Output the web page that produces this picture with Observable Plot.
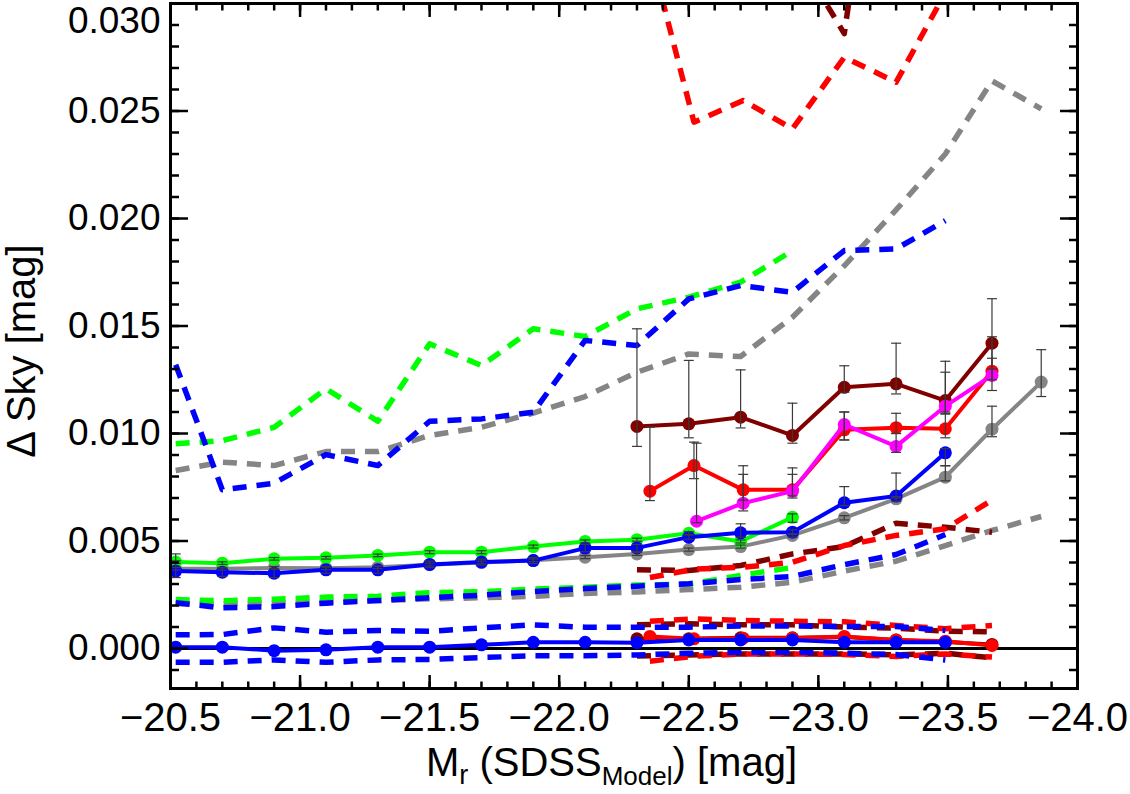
<!DOCTYPE html>
<html>
<head>
<meta charset="utf-8">
<script src="https://cdn.jsdelivr.net/npm/d3@7"></script>
<script src="https://cdn.jsdelivr.net/npm/@observablehq/plot@0.6"></script>
<style>
  html, body { margin: 0; padding: 0; background: #ffffff; }
  #chart svg { display: block; }
</style>
</head>
<body>
<div id="chart"></div>
<script>
// Absolute magnitude bins (mean M_r of the galaxies in each bin)
const magBins = [-20.52, -20.70, -20.90, -21.10, -21.30, -21.50, -21.70, -21.90, -22.10,
                 -22.30, -22.50, -22.70, -22.90, -23.10, -23.30, -23.49, -23.67, -23.86];
const redMags     = [-22.35, -22.52, -22.71, -22.90, -23.10, -23.30, -23.49, -23.67];
const magentaMags = [-22.53, -22.71, -22.90, -23.10, -23.30, -23.49, -23.67];

// Axis ticks
const xTicks = [-20.5, -21.0, -21.5, -22.0, -22.5, -23.0, -23.5, -24.0];
const yTicks = [0.000, 0.005, 0.010, 0.015, 0.020, 0.025, 0.030];

// Gray sample
const grayMean  = [0.00371, 0.00371, 0.00375, 0.00373, 0.00378, 0.00390, 0.00400, 0.00410, 0.00425, 0.00440, 0.00460, 0.00474, 0.00526, 0.00608, 0.00696, 0.00797, 0.01020, 0.01239];
const grayLo    = [0.00365, 0.00365, 0.00369, 0.00367, 0.00372, 0.00384, 0.00394, 0.00404, 0.00418, 0.00433, 0.00453, 0.00467, 0.00518, 0.00598, 0.00685, 0.00780, 0.00985, 0.01172];
const grayHi    = [0.00377, 0.00377, 0.00381, 0.00379, 0.00384, 0.00396, 0.00406, 0.00416, 0.00432, 0.00447, 0.00467, 0.00481, 0.00534, 0.00618, 0.00707, 0.00850, 0.01127, 0.01390];
const grayUpper = [0.00828, 0.00867, 0.00851, 0.00916, 0.00916, 0.00991, 0.01029, 0.01095, 0.01172, 0.01285, 0.01370, 0.01358, 0.01541, 0.01780, 0.02040, 0.02300, 0.02640, 0.02510];
const grayLower = [0.00208, 0.00208, 0.00211, 0.00217, 0.00223, 0.00231, 0.00236, 0.00243, 0.00256, 0.00263, 0.00274, 0.00285, 0.00308, 0.00360, 0.00406, 0.00479, 0.00549, 0.00614];

// Green sample
const greenMean  = [0.00402, 0.00397, 0.00417, 0.00422, 0.00433, 0.00448, 0.00448, 0.00474, 0.00498, 0.00506, 0.00536, 0.00498, 0.00610];
const greenLo    = [0.00396, 0.00391, 0.00411, 0.00416, 0.00427, 0.00441, 0.00441, 0.00467, 0.00491, 0.00499, 0.00529, 0.00491, 0.00587];
const greenHi    = [0.00408, 0.00403, 0.00423, 0.00428, 0.00439, 0.00455, 0.00455, 0.00481, 0.00505, 0.00513, 0.00543, 0.00505, 0.00626];
const greenUpper = [0.00952, 0.00967, 0.01029, 0.01208, 0.01057, 0.01417, 0.01316, 0.01487, 0.01451, 0.01580, 0.01634, 0.01704, 0.01850];
const greenLower = [0.00228, 0.00222, 0.00229, 0.00239, 0.00243, 0.00260, 0.00264, 0.00276, 0.00285, 0.00295, 0.00300, 0.00340, 0.00377];

// Blue sample
const blueMean  = [0.00360, 0.00355, 0.00350, 0.00366, 0.00366, 0.00391, 0.00402, 0.00409, 0.00467, 0.00468, 0.00518, 0.00538, 0.00541, 0.00678, 0.00709, 0.00910];
const blueLo    = [0.00330, 0.00335, 0.00330, 0.00350, 0.00350, 0.00376, 0.00388, 0.00395, 0.00450, 0.00452, 0.00508, 0.00518, 0.00530, 0.00665, 0.00700, 0.00850];
const blueHi    = [0.00440, 0.00375, 0.00370, 0.00382, 0.00382, 0.00406, 0.00416, 0.00423, 0.00484, 0.00484, 0.00528, 0.00580, 0.00552, 0.00753, 0.00816, 0.00930];
const blueUpper = [0.01320, 0.00738, 0.00769, 0.00902, 0.00851, 0.01057, 0.01068, 0.01099, 0.01433, 0.01409, 0.01626, 0.01688, 0.01657, 0.01851, 0.01859, 0.01990];
const blueLower = [0.00213, 0.00189, 0.00195, 0.00211, 0.00223, 0.00236, 0.00248, 0.00265, 0.00279, 0.00290, 0.00301, 0.00321, 0.00335, 0.00390, 0.00437, 0.00530];

// Dark red sample
const maroonMean  = [0.01033, 0.01045, 0.01076, 0.00991, 0.01215, 0.01231, 0.01153, 0.01420];
const maroonLo    = [0.00940, 0.00980, 0.01026, 0.00955, 0.01192, 0.01184, 0.01094, 0.01300];
const maroonHi    = [0.01487, 0.01340, 0.01296, 0.01141, 0.01315, 0.01420, 0.01336, 0.01627];
const maroonUpper = [0.0360, 0.0370, 0.0350, 0.0326, 0.0286, 0.0450, 0.0420, 0.0400];
const maroonLower = [0.00366, 0.00363, 0.00386, 0.00440, 0.00474, 0.00583, 0.00564, 0.00541];

// Red sample
const redMean  = [0.00732, 0.00851, 0.00738, 0.00738, 0.01017, 0.01027, 0.01022, 0.01290];
const redLo    = [0.00688, 0.00790, 0.00690, 0.00710, 0.00970, 0.01000, 0.00980, 0.01250];
const redHi    = [0.01030, 0.00960, 0.00850, 0.00840, 0.01100, 0.01094, 0.01100, 0.01450];
const redUpper = [0.03240, 0.02448, 0.02549, 0.02417, 0.02750, 0.02634, 0.03050, 0.03400];
const redLower = [0.00330, 0.00369, 0.00378, 0.00401, 0.00479, 0.00526, 0.00557, 0.00690];

// Magenta sample
const magentaMean = [0.00592, 0.00676, 0.00732, 0.01042, 0.00940, 0.01127, 0.01270];
const magentaLo   = [0.00585, 0.00640, 0.00700, 0.00970, 0.00912, 0.01090, 0.01200];
const magentaHi   = [0.00955, 0.00810, 0.00810, 0.01100, 0.01000, 0.01285, 0.01350];

// Offsets of the control measurement (scattered around zero)
const blueZero        = [0.00006, 0.00006, -0.00010, -0.00006, 0.00006, 0.00006, 0.00017, 0.00029, 0.00029, 0.00027, 0.00040, 0.00040, 0.00040, 0.00029, 0.00029, 0.00029];
const blueZeroUpper   = [0.00064, 0.00065, 0.00096, 0.00076, 0.00084, 0.00080, 0.00096, 0.00110, 0.00099, 0.00099, 0.00099, 0.00105, 0.00105, 0.00102, 0.00102, 0.00084];
const blueZeroLower   = [-0.00064, -0.00064, -0.00053, -0.00064, -0.00053, -0.00051, -0.00042, -0.00034, -0.00034, -0.00030, -0.00022, -0.00017, -0.00017, -0.00022, -0.00028, -0.00053];
const redZero         = [0.00056, 0.00045, 0.00048, 0.00048, 0.00056, 0.00040, 0.00034, 0.00014];
const redZeroUpper    = [0.00127, 0.00138, 0.00130, 0.00127, 0.00124, 0.00107, 0.00092, 0.00107];
const redZeroLower    = [-0.00059, -0.00036, -0.00025, -0.00025, -0.00028, -0.00037, -0.00025, -0.00040];
const maroonZero      = [0.00045, 0.00045, 0.00050, 0.00050, 0.00053, 0.00040, 0.00030, 0.00019];
const maroonZeroUpper = [0.00110, 0.00115, 0.00110, 0.00110, 0.00100, 0.00095, 0.00080, 0.00078];
const maroonZeroLower = [-0.00035, -0.00030, -0.00025, -0.00025, -0.00025, -0.00030, -0.00022, -0.00043];

// Colours
const GRAY = "#858585", GREEN = "#00ff00", BLUE = "#0000ff",
      MAROON = "#800000", RED = "#ff0000", MAGENTA = "#ff00ff";
const DASH = "14,10";

const maroonMags = magBins.slice(9, 17);
const grayMags = magBins.slice(0, 18);
const greenMags = magBins.slice(0, 13);
const blueMags = magBins.slice(0, 16);

const rows = (mags, vals) => vals.map((v, i) => ({mag: mags[i], val: v}));
const errRows = (mags, mean, lo, hi) => mean.map((v, i) => ({mag: mags[i], val: v, lo: lo[i], hi: hi[i]}));

const dashed = (mags, vals, color) =>
  Plot.line(rows(mags, vals), {x: "mag", y: "val", stroke: color, strokeWidth: 5.5,
    strokeDasharray: DASH, strokeLinecap: "butt", clip: true});
const solid = (mags, vals, color) => [
  Plot.line(rows(mags, vals), {x: "mag", y: "val", stroke: color, strokeWidth: 4, clip: true}),
  Plot.dot(rows(mags, vals), {x: "mag", y: "val", fill: color, r: 6.5, clip: true})
];

// horizontal cap drawn at each end of an error bar
const capSymbol = {draw(ctx) { ctx.moveTo(-5, 0); ctx.lineTo(5, 0); }};
const ERR = "#3a3a3a";
const errorBars = (mags, mean, lo, hi) => {
  const d = errRows(mags, mean, lo, hi);
  return [
    Plot.ruleX(d, {x: "mag", y1: "lo", y2: "hi", stroke: ERR, strokeWidth: 1.2, clip: true}),
    Plot.dot(d, {x: "mag", y: "lo", symbol: capSymbol, fill: "none", stroke: ERR, strokeWidth: 1.2, clip: true}),
    Plot.dot(d, {x: "mag", y: "hi", symbol: capSymbol, fill: "none", stroke: ERR, strokeWidth: 1.2, clip: true})
  ];
};

const xMinor = d3.range(0, 36).map(i => -20.5 - i * 0.1);
const yMinor = d3.range(-1, 31).map(i => i * 0.001);
const fmtX = d => "\u2212" + Math.abs(d).toFixed(1);
const fmtY = d => d3.format(".3f")(d);
const blank = () => "";

const chart = Plot.plot({
  width: 1130,
  height: 794,
  marginLeft: 170,
  marginRight: 53,
  marginTop: 3,
  marginBottom: 106,
  style: {fontFamily: "'Liberation Sans', Arial, sans-serif", background: "#ffffff", color: "#000"},
  x: {domain: [-20.5, -24.0], label: null},
  y: {domain: [-0.00186, 0.030], label: null},
  marks: [
    // scatter envelopes
    dashed(grayMags, grayUpper, GRAY),
    dashed(grayMags, grayLower, GRAY),
    dashed(greenMags, greenUpper, GREEN),
    dashed(greenMags, greenLower, GREEN),
    dashed(maroonMags, maroonUpper, MAROON),
    dashed(maroonMags, maroonLower, MAROON),
    dashed(redMags, redUpper, RED),
    dashed(redMags, redLower, RED),
    dashed(blueMags, blueUpper, BLUE),
    dashed(blueMags, blueLower, BLUE),

    // control measurement around zero
    dashed(maroonMags, maroonZeroUpper, MAROON),
    dashed(maroonMags, maroonZeroLower, MAROON),
    dashed(redMags, redZeroUpper, RED),
    dashed(redMags, redZeroLower, RED),
    dashed(blueMags, blueZeroUpper, BLUE),
    dashed(blueMags, blueZeroLower, BLUE),
    Plot.ruleY([0], {stroke: "#000", strokeWidth: 3}),
    solid(maroonMags, maroonZero, MAROON),
    solid(redMags, redZero, RED),
    solid(blueMags, blueZero, BLUE),

    // mean offsets
    solid(grayMags, grayMean, GRAY),
    solid(greenMags, greenMean, GREEN),
    solid(blueMags, blueMean, BLUE),
    solid(maroonMags, maroonMean, MAROON),
    solid(redMags, redMean, RED),
    solid(magentaMags, magentaMean, MAGENTA),
    errorBars(grayMags, grayMean, grayLo, grayHi),
    errorBars(greenMags, greenMean, greenLo, greenHi),
    errorBars(blueMags, blueMean, blueLo, blueHi),
    errorBars(maroonMags, maroonMean, maroonLo, maroonHi),
    errorBars(redMags, redMean, redLo, redHi),
    errorBars(magentaMags, magentaMean, magentaLo, magentaHi),

    // inward ticks on all four sides
    Plot.axisX(xMinor, {anchor: "bottom", tickSize: -6.5, strokeWidth: 2.5, tickFormat: blank, label: null}),
    Plot.axisX(xTicks, {anchor: "bottom", tickSize: -13, strokeWidth: 2.5, tickFormat: blank, label: null}),
    Plot.axisX(xMinor, {anchor: "top", tickSize: -6.5, strokeWidth: 2.5, tickFormat: blank, label: null}),
    Plot.axisX(xTicks, {anchor: "top", tickSize: -13, strokeWidth: 2.5, tickFormat: blank, label: null}),
    Plot.axisY(yMinor, {anchor: "left", tickSize: -9, strokeWidth: 2.5, tickFormat: blank, label: null}),
    Plot.axisY(yTicks, {anchor: "left", tickSize: -18, strokeWidth: 2.5, tickFormat: blank, label: null}),
    Plot.axisY(yMinor, {anchor: "right", tickSize: -9, strokeWidth: 2.5, tickFormat: blank, label: null}),
    Plot.axisY(yTicks, {anchor: "right", tickSize: -18, strokeWidth: 2.5, tickFormat: blank, label: null}),

    // tick labels
    Plot.axisX(xTicks, {anchor: "bottom", tickSize: 0, tickPadding: 14, fontSize: 40, tickFormat: fmtX, label: null}),
    Plot.axisY(yTicks.slice(0, -1), {anchor: "left", tickSize: 0, tickPadding: 10, fontSize: 37, tickFormat: fmtY, label: null}),
    Plot.axisY(yTicks.slice(-1), {anchor: "left", tickSize: 0, tickPadding: 10, fontSize: 37, tickFormat: fmtY, label: null, dy: 18}),

    // y-axis title
    Plot.text(["\u0394 Sky [mag]"], {text: d => d, frameAnchor: "left", textAnchor: "middle",
      rotate: -90, dx: -148, dy: 5, fontSize: 40}),

    Plot.frame({stroke: "#000", strokeWidth: 3})
  ]
});

// x-axis title with subscripts
const svg = d3.select(chart);
const [xr0, xr1] = chart.scale("x").range;
const title = svg.append("text")
  .attr("x", (xr0 + xr1) / 2 - 12)
  .attr("y", 776)
  .attr("text-anchor", "middle")
  .attr("font-size", 40)
  .attr("font-family", "'Liberation Sans', Arial, sans-serif")
  .attr("fill", "#000");
title.append("tspan").text("M");
title.append("tspan").attr("font-size", 27).attr("dy", 8).text("r");
title.append("tspan").attr("dy", -8).text(" (SDSS");
title.append("tspan").attr("font-size", 26).attr("dy", 9).text("Model");
title.append("tspan").attr("dy", -9).text(") [mag]");

document.getElementById("chart").append(chart);
</script>
</body>
</html>
